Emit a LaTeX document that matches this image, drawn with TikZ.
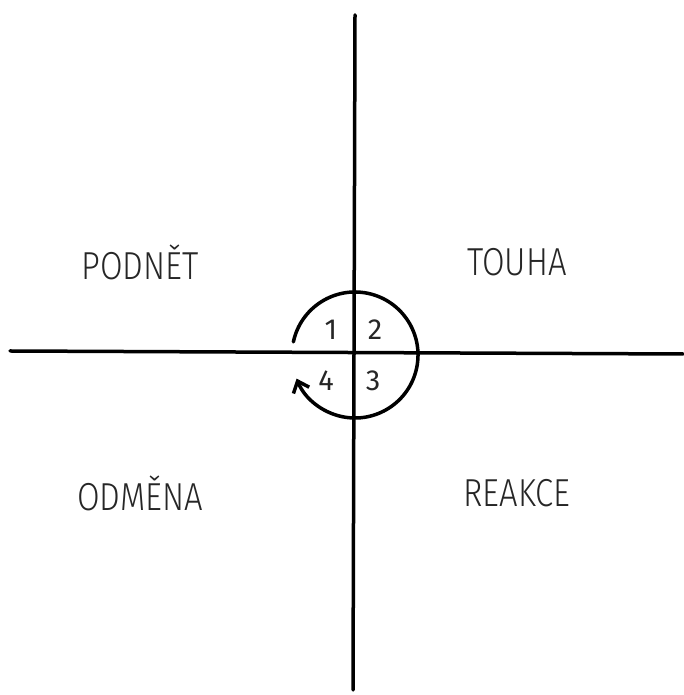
\documentclass[tikz,border=0pt]{standalone}
\usepackage{fontspec}
\setmainfont{Fira Sans Light}[FakeStretch=0.84]
\newfontfamily\chiffrefont{Fira Sans}
\usepackage{tikz}
\usetikzlibrary{positioning,calc,arrows.meta}

\tikzset{
  axe/.style={line width=3.5pt, line cap=round},
  quadrant/.style={font=\fontsize{39}{39}\selectfont, text=black!85, inner sep=0pt},
  chiffre/.style={font=\chiffrefont\fontsize{29}{29}\selectfont, text=black!85, inner sep=0pt}
}

\begin{document}
\begin{tikzpicture}[x=1pt, y=1pt]
      \useasboundingbox (0,0) rectangle (683,695);
      % Axes : les deux traits qui coupent la page en quatre
      \coordinate (centre) at (355,340);
      \coordinate (haut) at (355,680);
      \coordinate (bas) at (353,5);
      \coordinate (gauche) at (10,344);
      \coordinate (droite) at (683,341);
      \draw[axe] (haut) -- (bas);
      \draw[axe] (gauche) -- (droite);
      % Boucle de l'habitude, dans le sens des aiguilles d'une montre
      \draw[line width=3.5pt, line cap=round, -{Straight Barb[length=10pt, width=17pt, line width=3.5pt]}]
        ([shift={(168:63)}]centre) arc[start angle=168, end angle=-158, radius=63];
      % Numeros des etapes autour du centre
      \node[chiffre] (un) at (331,365) {1};
      \node[chiffre] (deux) at (375,365) {2};
      \node[chiffre] (trois) at (373,314) {3};
      \node[chiffre] (quatre) at (326,314) {4};
      % Noms des quatre quadrants
      \node[quadrant] (podnet) at (140,433) {PODNĚT};
      \node[quadrant] (touha) at (517,433) {TOUHA};
      \node[quadrant] (odmena) at (140,202) {ODMĚNA};
      \node[quadrant] (reakce) at (517,202) {REAKCE};
    \end{tikzpicture}
\end{document}
